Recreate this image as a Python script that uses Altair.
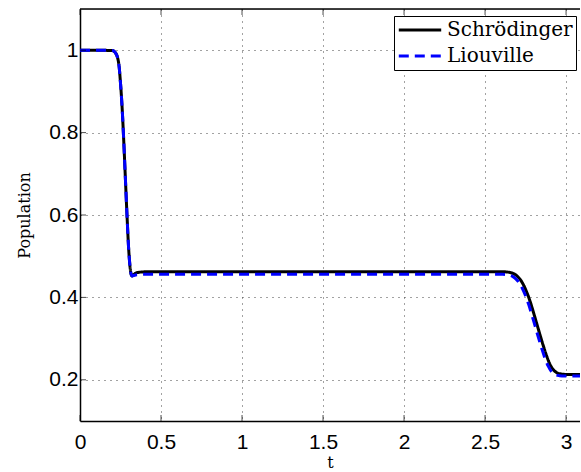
import altair as alt
import pandas as pd

# Schrödinger curve
t_s = [0, 0.10, 0.20, 0.22, 0.24, 0.25, 0.26, 0.27, 0.28, 0.29, 0.30, 0.31, 0.32, 0.33, 0.35, 0.40,
       1.0, 1.5, 2.0, 2.5, 2.62, 2.66, 2.68, 2.70, 2.72, 2.74, 2.76, 2.78, 2.80, 2.82, 2.84, 2.86,
       2.88, 2.90, 2.92, 2.94, 2.97, 3.00, 3.086]
p_s = [1.0, 1.0, 0.999, 0.993, 0.965, 0.92, 0.86, 0.78, 0.69, 0.60, 0.52, 0.47, 0.452, 0.455, 0.460, 0.462,
       0.462, 0.462, 0.462, 0.462, 0.462, 0.460, 0.457, 0.451, 0.442, 0.428, 0.410, 0.388, 0.362, 0.335, 0.308, 0.282,
       0.258, 0.238, 0.225, 0.218, 0.214, 0.213, 0.213]

# Liouville curve
t_l = [0, 0.10, 0.20, 0.22, 0.24, 0.25, 0.26, 0.27, 0.28, 0.29, 0.30, 0.31, 0.32, 0.33, 0.35, 0.40,
       1.0, 1.5, 2.0, 2.5, 2.61, 2.65, 2.67, 2.69, 2.71, 2.73, 2.75, 2.77, 2.79, 2.81, 2.83, 2.85,
       2.87, 2.89, 2.91, 2.93, 2.96, 2.99, 3.086]
p_l = [1.0, 1.0, 0.999, 0.993, 0.965, 0.92, 0.86, 0.78, 0.69, 0.60, 0.52, 0.47, 0.452, 0.453, 0.455, 0.456,
       0.456, 0.456, 0.456, 0.456, 0.456, 0.454, 0.451, 0.445, 0.436, 0.422, 0.404, 0.382, 0.356, 0.329, 0.302, 0.276,
       0.252, 0.233, 0.220, 0.213, 0.210, 0.209, 0.209]

series = ["Schrödinger", "Liouville"]
x_ticks = [0, 0.5, 1, 1.5, 2, 2.5, 3]
y_ticks = [0.2, 0.4, 0.6, 0.8, 1.0]

df_s = pd.DataFrame({"t": t_s, "p": p_s, "s": series[0]})
df_l = pd.DataFrame({"t": t_l, "p": p_l, "s": series[1]})

W, H = 500, 412

xs = alt.Scale(domain=[0, 3.086], nice=False, zero=False)
ys = alt.Scale(domain=[0.1, 1.1], nice=False, zero=False)

xax = alt.Axis(values=x_ticks, title="t", labelFont="Liberation Sans", labelFontSize=21,
               labelColor="black", titleFont="DejaVu Serif", titleFontSize=16, titleFontWeight="normal",
               titleColor="black", titlePadding=2, labelPadding=10, tickSize=0, domainColor="black",
               domainWidth=1.5, grid=True, gridDash=[1, 5], gridColor="#444", gridWidth=1,
               labelFlush=False, labelExpr="'' + datum.value")
yax = alt.Axis(values=y_ticks, title="Population", labelFont="Liberation Sans", labelFontSize=21,
               labelColor="black", titleFont="DejaVu Serif", titleFontSize=16, titleFontWeight="normal",
               titleColor="black", titlePadding=16, labelPadding=2, tickSize=0, domainColor="black",
               domainWidth=1.5, grid=True, gridDash=[1, 5], gridColor="#444", gridWidth=1,
               labelFlush=False, labelExpr="'' + datum.value")

color = alt.Color("s:N", scale=alt.Scale(domain=series, range=["black", "#0000ff"]),
                  legend=alt.Legend(title=None, orient="none", legendX=314, legendY=7,
                                    symbolType="stroke", symbolStrokeWidth=3, symbolSize=1800,
                                    clipHeight=22, labelFont="DejaVu Serif", labelFontSize=20,
                                    labelColor="black", strokeColor="black", fillColor="white",
                                    padding=3, rowPadding=4, labelOffset=4, symbolOffset=0))
dash = alt.StrokeDash("s:N", scale=alt.Scale(domain=series, range=[[1, 0], [10, 6]]), legend=None)

base_enc = dict(x=alt.X("t:Q", scale=xs, axis=xax), y=alt.Y("p:Q", scale=ys, axis=yax),
                color=color, strokeDash=dash)

l1 = alt.Chart(df_s).mark_line(strokeWidth=3, interpolate="monotone", clip=True).encode(**base_enc)
l2 = alt.Chart(df_l).mark_line(strokeWidth=3, interpolate="monotone", clip=True).encode(**base_enc)

top = alt.Chart(pd.DataFrame({"a": [0]})).mark_rule(color="black", strokeWidth=1.5).encode(
    x=alt.value(0), x2=alt.value(W), y=alt.value(0))

xt = pd.DataFrame({"t": x_ticks})
yt = pd.DataFrame({"p": y_ticks})
xtick_top = alt.Chart(xt).mark_tick(color="black", thickness=1, size=6).encode(
    x=alt.X("t:Q", scale=xs), y=alt.value(3))
xtick_bot = alt.Chart(xt).mark_tick(color="black", thickness=1, size=6).encode(
    x=alt.X("t:Q", scale=xs), y=alt.value(H - 3))
ytick_left = alt.Chart(yt).mark_tick(color="black", thickness=1, size=6, orient="horizontal").encode(
    y=alt.Y("p:Q", scale=ys), x=alt.value(3))

chart = alt.layer(l1, l2, top, xtick_top, xtick_bot, ytick_left).properties(
    width=W, height=H,
    padding={"left": 80, "top": 9, "right": 0, "bottom": 51},
    autosize=alt.AutoSizeParams(type="none"),
).configure_view(stroke=None).configure(background="white")

chart.save("out.html", embed_options={"renderer": "svg", "actions": False})
